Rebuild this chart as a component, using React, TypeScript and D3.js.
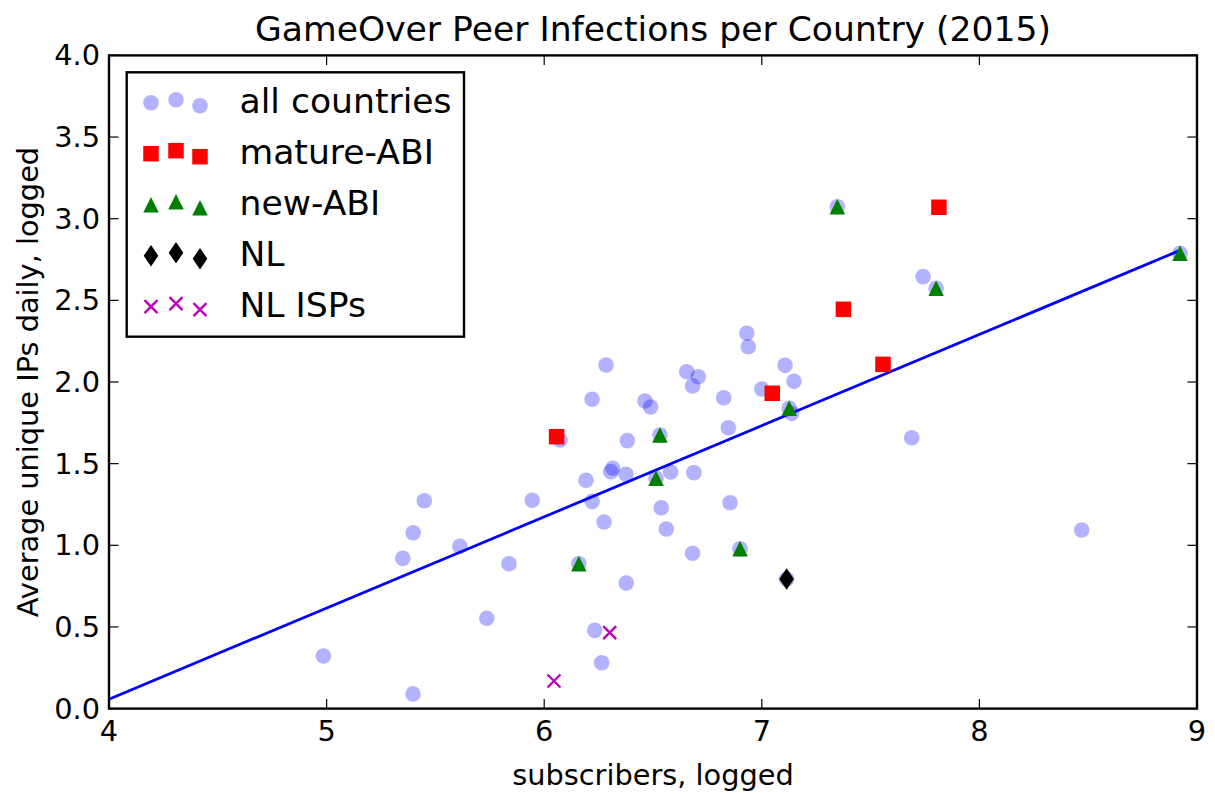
import React from "react";
import * as d3 from "d3";

// ---- data ----
const allX = [4.985, 5.397, 5.350, 5.398, 5.449, 5.612, 5.736, 5.838, 5.945, 6.073, 6.159, 6.192, 6.220, 6.220, 6.232, 6.264, 6.275, 6.284, 6.306, 6.315, 6.376, 6.377, 6.382, 6.463, 6.489, 6.514, 6.532, 6.538, 6.561, 6.581, 6.655, 6.682, 6.708, 6.682, 6.688, 6.825, 6.846, 6.854, 6.900, 6.931, 6.938, 7.000, 7.107, 7.114, 7.137, 7.126, 7.148, 7.347, 7.689, 7.741, 7.801, 8.470, 8.922];
const allY = [0.322, 0.090, 0.920, 1.077, 1.273, 0.994, 0.553, 0.887, 1.276, 1.645, 0.887, 1.398, 1.894, 1.269, 0.479, 0.281, 1.143, 2.104, 1.451, 1.472, 1.435, 0.769, 1.641, 1.884, 1.847, 1.410, 1.675, 1.230, 1.100, 1.449, 2.063, 1.976, 2.032, 0.951, 1.445, 1.904, 1.720, 1.261, 0.979, 2.298, 2.216, 1.957, 2.102, 0.794, 1.808, 1.839, 2.004, 3.073, 1.659, 2.645, 2.574, 1.094, 2.788];

const matureX = [6.057, 7.048, 7.375, 7.557, 7.814];
const matureY = [1.665, 1.931, 2.445, 2.108, 3.070];

const newX = [6.159, 6.514, 6.532, 6.900, 7.126, 7.347, 7.801, 8.922];
const newY = [0.887, 1.410, 1.675, 0.979, 1.839, 3.073, 2.574, 2.788];

const nlX = [7.114];
const nlY = [0.794];

const ispX = [6.301, 6.045];
const ispY = [0.465, 0.169];

const fitX = [4.0, 8.922];
const fitSlope = 0.5584;
const fitIntercept = -2.176;

const xTicks = [4, 5, 6, 7, 8, 9];
const yTicks = [0, 0.5, 1, 1.5, 2, 2.5, 3, 3.5, 4];

const legendLabels = ["all countries", "mature-ABI", "new-ABI", "NL", "NL ISPs"];

// ---- layout ----
const W = 1215, H = 794;
const L = 109, R = 1197, T = 55.4, B = 708.6;
const FONT = "'DejaVu Sans', sans-serif";

const x = d3.scaleLinear().domain([4, 9]).range([L, R]);
const y = d3.scaleLinear().domain([0, 4]).range([B, T]);

const zip = (a: number[], b: number[]) => a.map((v, i) => [v, b[i]] as [number, number]);

const CIRC_R = 7.8;
const SQ = 15.5;
const TRI = 15.5;

function Circle({ cx, cy }: { cx: number; cy: number }) {
  return <circle cx={cx} cy={cy} r={CIRC_R} fill="blue" fillOpacity={0.3} />;
}
function Square({ cx, cy }: { cx: number; cy: number }) {
  return <rect x={cx - SQ / 2} y={cy - SQ / 2} width={SQ} height={SQ} fill="#ff0000" />;
}
function Tri({ cx, cy }: { cx: number; cy: number }) {
  const h = TRI / 2;
  return <path d={`M${cx},${cy - h}L${cx + h},${cy + h}L${cx - h},${cy + h}Z`} fill="#008000" />;
}
function Diamond({ cx, cy }: { cx: number; cy: number }) {
  const w = 7.3, h = 10.8;
  return <path d={`M${cx},${cy - h}L${cx + w},${cy}L${cx},${cy + h}L${cx - w},${cy}Z`} fill="#000" />;
}
function Cross({ cx, cy }: { cx: number; cy: number }) {
  const s = 6.5;
  return (
    <path
      d={`M${cx - s},${cy - s}L${cx + s},${cy + s}M${cx - s},${cy + s}L${cx + s},${cy - s}`}
      stroke="#bf00bf"
      strokeWidth={2.4}
      fill="none"
    />
  );
}

const markerComps = [Circle, Square, Tri, Diamond, Cross];

export default function App() {
  const line = d3.line<number>().x((v) => x(v)).y((v) => y(fitSlope * v + fitIntercept));
  const tickLen = 9.6;
  const legendRowY = (i: number) => 102.7 + 51 * i;
  const legendXs = [151, 176, 200];
  const legendDy = [0, -3, 3];

  return (
    <svg width={W} height={H} style={{ position: "absolute", left: 0, top: 0, background: "#fff" }} fontFamily={FONT}>
      <rect x={0} y={0} width={W} height={H} fill="#fff" />
      <defs>
        <clipPath id="plotclip">
          <rect x={L} y={T} width={R - L} height={B - T} />
        </clipPath>
      </defs>
      <g clipPath="url(#plotclip)">
        {zip(allX, allY).map(([a, b], i) => (
          <Circle key={"c" + i} cx={x(a)} cy={y(b)} />
        ))}
        <path d={line(fitX) || ""} stroke="#0000ff" strokeWidth={2.8} fill="none" />
        {zip(matureX, matureY).map(([a, b], i) => (
          <Square key={"s" + i} cx={x(a)} cy={y(b)} />
        ))}
        {zip(newX, newY).map(([a, b], i) => (
          <Tri key={"t" + i} cx={x(a)} cy={y(b)} />
        ))}
        {zip(nlX, nlY).map(([a, b], i) => (
          <Diamond key={"d" + i} cx={x(a)} cy={y(b)} />
        ))}
        {zip(ispX, ispY).map(([a, b], i) => (
          <Cross key={"x" + i} cx={x(a)} cy={y(b)} />
        ))}
      </g>

      {/* ticks */}
      {xTicks.map((t) => (
        <g key={"xt" + t}>
          <line x1={x(t)} x2={x(t)} y1={B} y2={B - tickLen} stroke="#000" strokeWidth={1.2} />
          <line x1={x(t)} x2={x(t)} y1={T} y2={T + tickLen} stroke="#000" strokeWidth={1.2} />
          <text x={x(t)} y={733} textAnchor="middle" fontSize={28.8} fill="#000" dominantBaseline="middle">
            {t}
          </text>
        </g>
      ))}
      {yTicks.map((t) => (
        <g key={"yt" + t}>
          <line x1={L} x2={L + tickLen} y1={y(t)} y2={y(t)} stroke="#000" strokeWidth={1.2} />
          <line x1={R} x2={R - tickLen} y1={y(t)} y2={y(t)} stroke="#000" strokeWidth={1.2} />
          <text x={100} y={y(t)} textAnchor="end" fontSize={28.8} fill="#000" dominantBaseline="central">
            {d3.format(".1f")(t)}
          </text>
        </g>
      ))}

      {/* frame */}
      <rect x={L} y={T} width={R - L} height={B - T} fill="none" stroke="#000" strokeWidth={2.4} />

      {/* legend */}
      <rect x={126.7} y={72.3} width={337.3} height={264.4} fill="#fff" stroke="#000" strokeWidth={2.4} />
      {legendLabels.map((lab, i) => {
        const M = markerComps[i];
        const ry = legendRowY(i);
        return (
          <g key={"lg" + i}>
            {legendXs.map((lx, j) => (
              <M key={j} cx={lx} cy={ry + legendDy[j]} />
            ))}
            <text x={239.5} y={ry + 10.5} fontSize={34.6} fill="#000">
              {lab}
            </text>
          </g>
        );
      })}

      {/* titles */}
      <text x={(L + R) / 2} y={41} textAnchor="middle" fontSize={34.6} fill="#000">
        GameOver Peer Infections per Country (2015)
      </text>
      <text x={(L + R) / 2} y={785} textAnchor="middle" fontSize={28.8} fill="#000">
        subscribers, logged
      </text>
      <text
        transform={`translate(38,${(T + B) / 2}) rotate(-90)`}
        textAnchor="middle"
        fontSize={28.8}
        fill="#000"
      >
        Average unique IPs daily, logged
      </text>
    </svg>
  );
}
